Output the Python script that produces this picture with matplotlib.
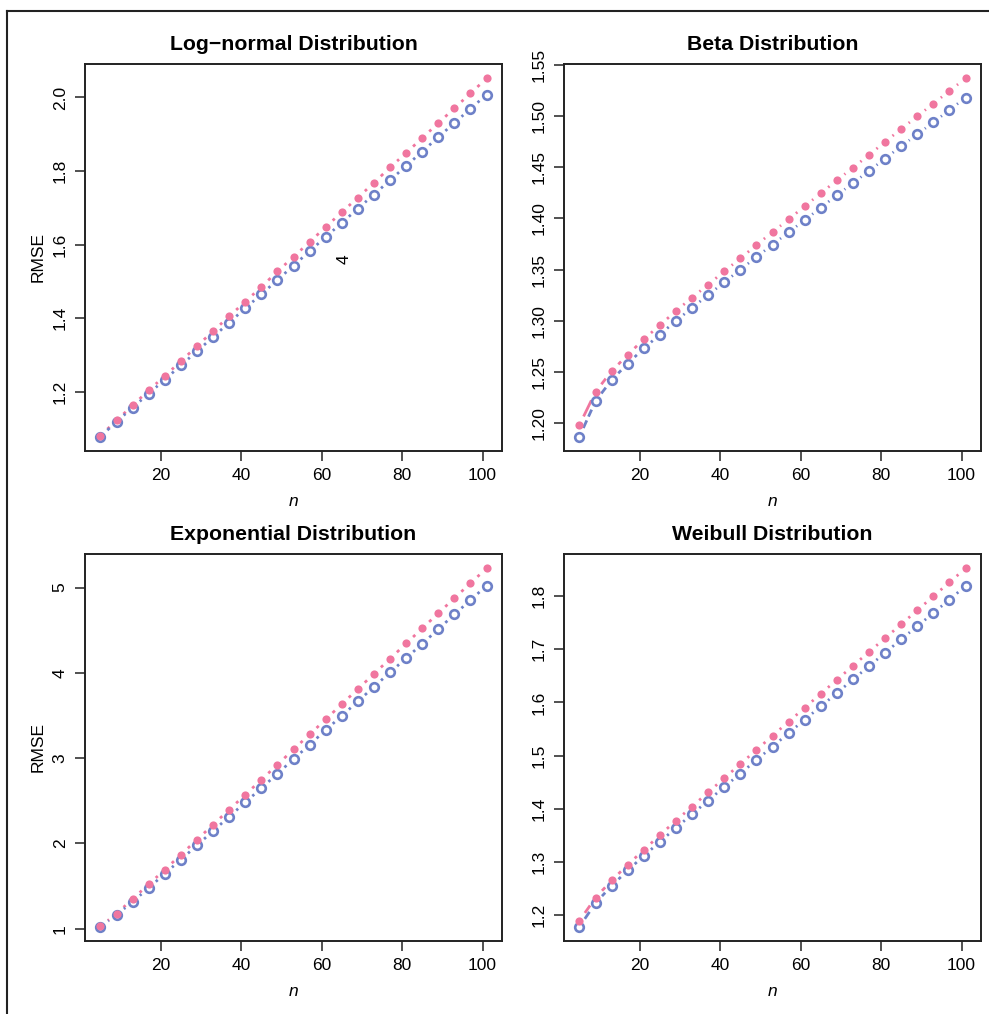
import matplotlib.pyplot as plt
from matplotlib.lines import Line2D
import numpy as np

plt.rcParams['font.family'] = ['Liberation Sans', 'DejaVu Sans']

n = list(range(5, 102, 4))

lognorm_pink = [1.081, 1.122, 1.163, 1.204, 1.243, 1.283, 1.324, 1.365, 1.405, 1.445,
                1.485, 1.527, 1.567, 1.607, 1.648, 1.688, 1.728, 1.768, 1.810, 1.849,
                1.890, 1.930, 1.971, 2.011, 2.052]
lognorm_blue = [1.078, 1.119, 1.157, 1.195, 1.233, 1.272, 1.310, 1.349, 1.388, 1.427,
                1.465, 1.504, 1.543, 1.582, 1.621, 1.659, 1.698, 1.736, 1.775, 1.814,
                1.853, 1.892, 1.931, 1.969, 2.008]

beta_pink = [1.1984, 1.2308, 1.2510, 1.2669, 1.2821, 1.2958, 1.3097, 1.3227, 1.3354, 1.3484,
             1.3610, 1.3740, 1.3867, 1.3990, 1.4120, 1.4244, 1.4373, 1.4494, 1.4620, 1.4747,
             1.4873, 1.4997, 1.5120, 1.5244, 1.5367]
beta_blue = [1.1870, 1.2218, 1.2422, 1.2584, 1.2731, 1.2867, 1.3000, 1.3127, 1.3253, 1.3377,
             1.3500, 1.3623, 1.3744, 1.3864, 1.3984, 1.4104, 1.4227, 1.4344, 1.4464, 1.4584,
             1.4705, 1.4821, 1.4938, 1.5058, 1.5179]

expo_pink = [1.027, 1.176, 1.348, 1.520, 1.691, 1.867, 2.043, 2.219, 2.395, 2.570,
             2.746, 2.922, 3.102, 3.277, 3.453, 3.633, 3.809, 3.988, 4.164, 4.344,
             4.520, 4.699, 4.875, 5.051, 5.225]
expo_blue = [1.023, 1.160, 1.316, 1.477, 1.645, 1.809, 1.977, 2.145, 2.313, 2.480,
             2.648, 2.816, 2.988, 3.156, 3.328, 3.496, 3.664, 3.836, 4.004, 4.172,
             4.340, 4.512, 4.684, 4.852, 5.022]

weib_pink = [1.1894, 1.2326, 1.2651, 1.2946, 1.3227, 1.3503, 1.3778, 1.4041, 1.4311, 1.4574,
             1.4843, 1.5106, 1.5375, 1.5638, 1.5901, 1.6164, 1.6427, 1.6690, 1.6953, 1.7210,
             1.7473, 1.7736, 1.7999, 1.8262, 1.8525]
weib_blue = [1.1781, 1.2225, 1.2551, 1.2839, 1.3115, 1.3378, 1.3641, 1.3897, 1.4154, 1.4411,
             1.4661, 1.4918, 1.5168, 1.5425, 1.5676, 1.5926, 1.6177, 1.6433, 1.6684, 1.6934,
             1.7191, 1.7435, 1.7686, 1.7936, 1.8193]

titles = ['Log\u2212normal Distribution', 'Beta Distribution',
          'Exponential Distribution', 'Weibull Distribution']
xticks = [20, 40, 60, 80, 100]
yticks_ln = [1.2, 1.4, 1.6, 1.8, 2.0]
yticks_beta = [1.20, 1.25, 1.30, 1.35, 1.40, 1.45, 1.50, 1.55]
yticks_exp = [1, 2, 3, 4, 5]
yticks_weib = [1.2, 1.3, 1.4, 1.5, 1.6, 1.7, 1.8]

pink = '#F0769F'
blue = '#6E81C8'
dark = '#222222'
W, H = 989, 1014

fig = plt.figure(figsize=(W / 100, H / 100), dpi=100)


def r_range(vals):
    lo, hi = min(vals), max(vals)
    r = hi - lo
    return lo - 0.04 * r, hi + 0.04 * r


def gapped(ax, x, y, gap, **kw):
    # R type="b": lines stop short of the points
    disp = ax.transData.transform(np.column_stack([x, y]))
    inv = ax.transData.inverted()
    for i in range(len(x) - 1):
        p0, p1 = disp[i], disp[i + 1]
        d = p1 - p0
        L = np.hypot(*d)
        if L <= 2 * gap:
            continue
        seg = inv.transform([p0 + d / L * gap, p1 - d / L * gap])
        ax.plot(seg[:, 0], seg[:, 1], solid_capstyle='butt', dash_capstyle='butt', **kw)


def panel(box, pk, bl, title, yt, fmt, ylabel):
    x0, x1, y0, y1 = box
    ax = fig.add_axes([x0 / W, 1 - y1 / H, (x1 - x0) / W, (y1 - y0) / H])
    ax.set_xlim(r_range(n))
    ax.set_ylim(r_range(pk + bl))
    gapped(ax, n, pk, 9.5, color=pink, lw=2, zorder=2)
    gapped(ax, n, bl, 9.5, color=blue, lw=2, ls=(0, (3, 1.5)), zorder=2)
    ax.plot(n, bl, 'o', ms=6.2, mfc='none', mec=blue, mew=1.9, ls='none', zorder=3)
    ax.plot(n, pk, 'o', ms=5.9, color=pink, mew=0, ls='none', zorder=4)
    ax.set_xticks(xticks, [str(v) for v in xticks], fontsize=12.5)
    ax.set_yticks(yt, [fmt.format(v) for v in yt], fontsize=12.5, rotation=90, va='center')
    ax.tick_params(direction='out', length=7.5, width=1.1, color=dark, pad=5)
    for s in ax.spines.values():
        s.set_linewidth(1.4)
        s.set_color(dark)
    ax.set_title(title, fontsize=15.3, fontweight='bold', pad=10)
    ax.set_xlabel('n', fontsize=12.5, style='italic', labelpad=8)
    if ylabel:
        ax.set_ylabel('RMSE', fontsize=12.5, labelpad=5)
    return ax


ax1 = panel((85, 502, 64, 451), lognorm_pink, lognorm_blue, titles[0], yticks_ln, '{:.1f}', True)
ax1.text(65.5, 1.56, '4', rotation=90, fontsize=12.5, ha='center', va='center')
panel((564, 981, 64, 451), beta_pink, beta_blue, titles[1], yticks_beta, '{:.2f}', False)
panel((85, 502, 554, 941), expo_pink, expo_blue, titles[2], yticks_exp, '{:.0f}', True)
panel((564, 981, 554, 941), weib_pink, weib_blue, titles[3], yticks_weib, '{:.1f}', False)

# outer frame (left and top edges of the original image)
fig.add_artist(Line2D([7 / W, 7 / W], [0, 1 - 11 / H], transform=fig.transFigure, color=dark, lw=1.5))
fig.add_artist(Line2D([7 / W, 1], [1 - 11 / H, 1 - 11 / H], transform=fig.transFigure, color=dark, lw=1.5))

fig.savefig('out.png', dpi=100)
